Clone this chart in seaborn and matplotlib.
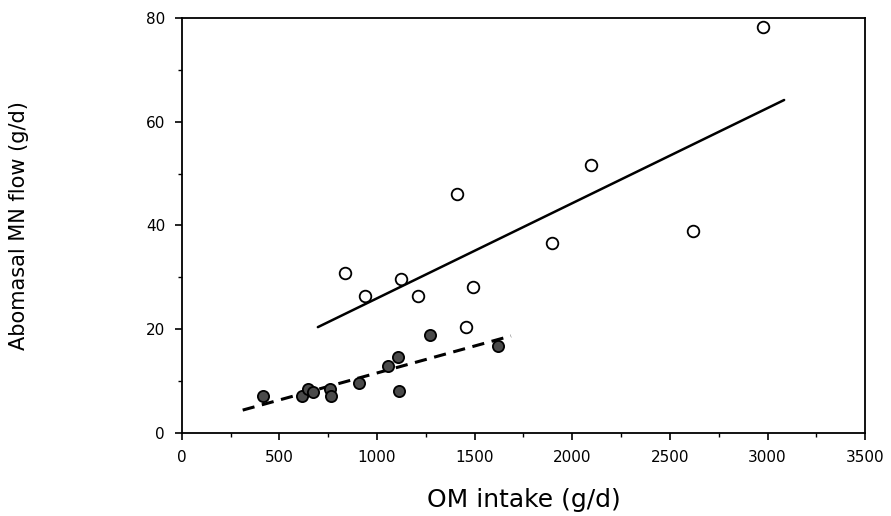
import matplotlib
matplotlib.use("Agg")
import numpy as np
import pandas as pd
import seaborn as sns
import matplotlib.pyplot as plt
from matplotlib.ticker import MultipleLocator

# 开放圆点（上组）
open_x = [835, 938, 1122, 1209, 1409, 1455, 1491, 1896, 2096, 2619, 2977]
open_y = [30.8, 26.4, 29.7, 26.4, 46.1, 20.4, 28.1, 36.6, 51.7, 38.9, 78.3]
# 实心圆点（下组）
fill_x = [416, 614, 648, 672, 759, 763, 907, 1057, 1107, 1112, 1271, 1619]
fill_y = [7.1, 7.1, 8.4, 7.9, 8.4, 7.1, 9.7, 13.0, 14.6, 8.1, 18.9, 16.8]
# 回归线端点
solid_x = [697, 3085]
solid_y = [20.4, 64.2]
dash_x = [312, 1686]
dash_y = [4.4, 18.7]

x_ticks = [0, 500, 1000, 1500, 2000, 2500, 3000, 3500]
y_ticks = [0, 20, 40, 60, 80]

sns.set_style("ticks", {"text.color": "black", "axes.labelcolor": "black",
                        "xtick.color": "black", "ytick.color": "black",
                        "axes.edgecolor": "black"})
plt.rcParams['font.family'] = ['DejaVu Sans']

df_open = pd.DataFrame({"x": open_x, "y": open_y})
df_fill = pd.DataFrame({"x": fill_x, "y": fill_y})
df_solid = pd.DataFrame({"x": solid_x, "y": solid_y})
df_dash = pd.DataFrame({"x": dash_x, "y": dash_y})

fig = plt.figure(figsize=(8.91, 5.16), dpi=100)
ax = fig.add_axes([0.204, 0.161, 0.767, 0.804])

sns.lineplot(data=df_solid, x="x", y="y", ax=ax, color="black", lw=1.8)
sns.lineplot(data=df_dash, x="x", y="y", ax=ax, color="black", lw=2.2)
ax.lines[-1].set_linestyle((0, (4, 2.5)))
sns.scatterplot(data=df_open, x="x", y="y", ax=ax, marker="o", s=70,
                facecolor="white", edgecolor="black", linewidth=1.3, zorder=3)
sns.scatterplot(data=df_fill, x="x", y="y", ax=ax, marker="o", s=65,
                facecolor="#4a4a4a", edgecolor="black", linewidth=1.3, zorder=3)

ax.set_xlim(0, 3500)
ax.set_ylim(0, 80)
ax.set_xticks(x_ticks)
ax.set_yticks(y_ticks)
ax.xaxis.set_minor_locator(MultipleLocator(250))
ax.yaxis.set_minor_locator(MultipleLocator(10))
ax.tick_params(which="major", direction="out", length=5, width=1.2, labelsize=11, pad=7)
ax.tick_params(which="minor", direction="out", length=3, width=1.0)
for s in ax.spines.values():
    s.set_linewidth(1.3)

ax.set_xlabel("OM intake (g/d)", fontsize=18, labelpad=17)
ax.set_ylabel("Abomasal MN flow (g/d)", fontsize=15, labelpad=84)

fig.savefig("out.png", dpi=100)
